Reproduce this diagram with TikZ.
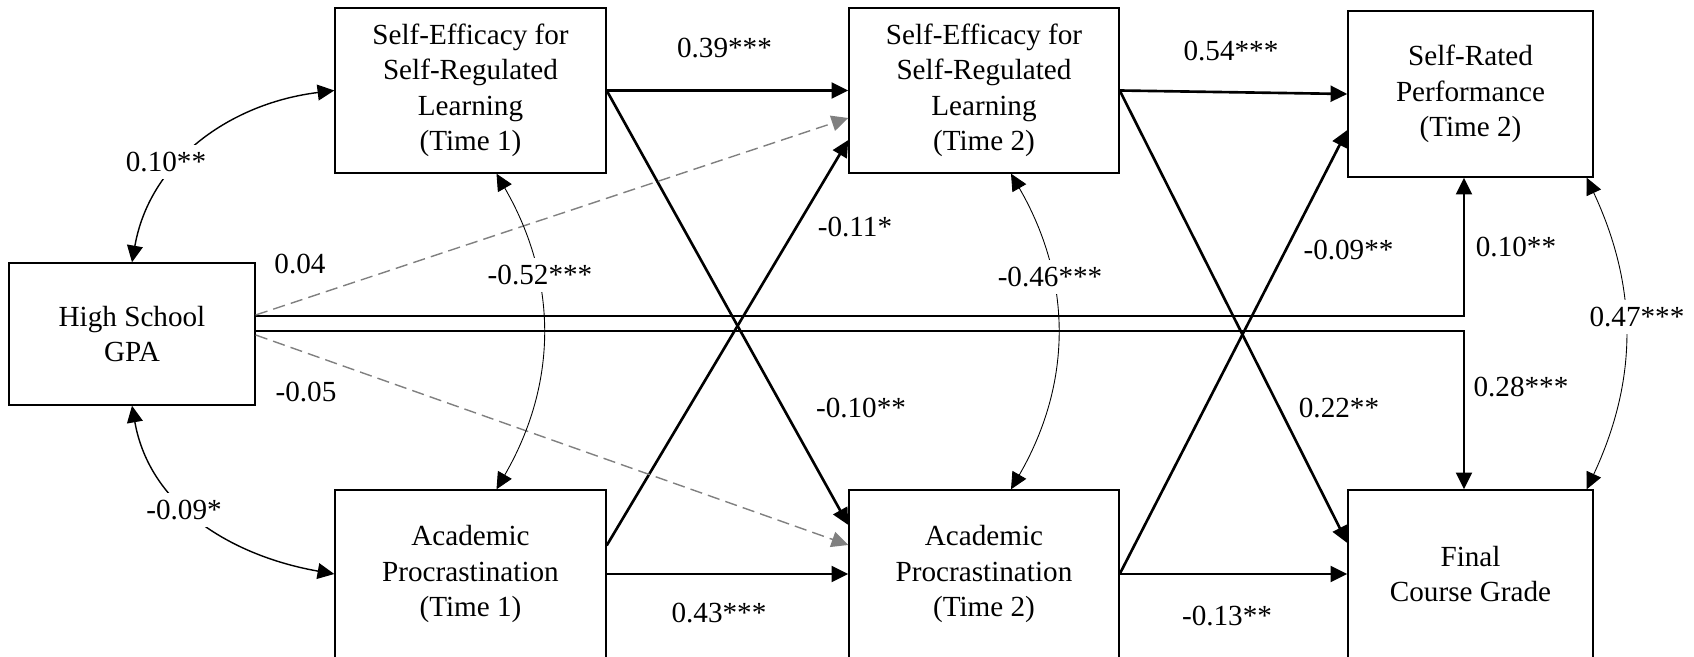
\documentclass[tikz,border=0pt]{standalone}
\usepackage{fontspec}
\setmainfont{Liberation Serif}
\usepackage{tikz}
\usetikzlibrary{arrows.meta, positioning, calc}
\newcommand{\semfont}{\fontsize{16.6}{20.2}\selectfont}

\begin{document}
\begin{tikzpicture}[
    box/.style={rectangle,draw=black,line width=0.8pt,align=center,font=\semfont,inner sep=0pt},
    effect/.style={-{Triangle[length=9.5pt,width=9pt]},line width=1.5pt},
    nonsig/.style={-{Triangle[length=9.5pt,width=9pt]},draw=black!50,line width=0.8pt,dash pattern=on 7pt off 3.5pt},
    covar/.style={{Triangle[length=9.5pt,width=9pt]}-{Triangle[length=9.5pt,width=9pt]},line width=0.8pt},
    thincovar/.style={covar,line width=0.5pt},
    coef/.style={font=\semfont,inner sep=0pt},
    coefw/.style={coef,fill=white,inner sep=4pt}
]
    \useasboundingbox (0,0) rectangle (33.88,-13.14);
    \clip (0,0) rectangle (33.88,-13.14);

    % Variabili
    \node[box,minimum width=4.92cm,minimum height=2.84cm] (hs) at (2.64,-6.68) {High School\\GPA};
    \node[box,minimum width=5.42cm,minimum height=3.30cm] (se1) at (9.41,-1.81) {Self-Efficacy for\\Self-Regulated\\Learning\\(Time 1)};
    \node[box,minimum width=5.40cm,minimum height=3.30cm] (se2) at (19.68,-1.81) {Self-Efficacy for\\Self-Regulated\\Learning\\(Time 2)};
    \node[box,minimum width=4.90cm,minimum height=3.32cm] (srp) at (29.41,-1.88) {Self-Rated\\Performance\\(Time 2)};
    \node[box,minimum width=5.42cm,minimum height=3.36cm] (ap1) at (9.41,-11.48) {Academic\\Procrastination\\(Time 1)};
    \node[box,minimum width=5.40cm,minimum height=3.36cm] (ap2) at (19.68,-11.48) {Academic\\Procrastination\\(Time 2)};
    \node[box,minimum width=4.90cm,minimum height=3.36cm] (fcg) at (29.41,-11.48) {Final\\Course Grade};

    % Percorsi
    \draw[effect] (se1.east) -- (se2.west);
    \draw[effect] (se2.east) -- (srp.west);
    \draw[effect] (ap1.east) -- (ap2.west);
    \draw[effect] (ap2.east) -- (fcg.west);
    \draw[effect] (se1.east) -- ([yshift=0.98cm]ap2.west);
    \draw[effect] ([yshift=0.57cm]ap1.east) -- ([yshift=-0.99cm]se2.west);
    \draw[effect] (se2.east) -- ([yshift=0.62cm]fcg.west);
    \draw[effect] (ap2.east) -- ([yshift=-0.72cm]srp.west);
    \draw[effect] ([yshift=0.36cm]hs.east) -| ([xshift=-0.13cm]srp.south);
    \draw[effect] ([yshift=0.06cm]hs.east) -| ([xshift=-0.13cm]fcg.north);

    % Percorsi non significativi
    \draw[nonsig] ([yshift=0.38cm]hs.east) -- ([yshift=-0.55cm]se2.west);
    \draw[nonsig] ([yshift=-0.02cm]hs.east) -- ([yshift=0.58cm]ap2.west);

    % Covarianze
    \draw[covar] (hs.north) to[out=80,in=187] (se1.west);
    \draw[covar] (hs.south) to[out=-80,in=170] (ap1.west);
    \draw[thincovar] ([xshift=0.52cm]se1.south) to[out=-60,in=60] ([xshift=0.52cm]ap1.north);
    \draw[thincovar] ([xshift=0.54cm]se2.south) to[out=-60,in=60] ([xshift=0.54cm]ap2.north);
    \draw[thincovar] ([xshift=-0.14cm]srp.south east) to[out=-65,in=65] ([xshift=-0.14cm]fcg.north east);

    % Coefficienti
    \node[coefw] (c-hs-se1) at (3.32,-3.24) {0.10**};
    \node[coefw] (c-hs-ap1) at (3.68,-10.20) {-0.09*};
    \node[coefw] (c-se1-ap1) at (10.80,-5.50) {-0.52***};
    \node[coefw] (c-se2-ap2) at (21.00,-5.54) {-0.46***};
    \node[coefw] (c-srp-fcg) at (32.74,-6.34) {0.47***};
    \node[coef] (c-hs-se2) at (6.00,-5.28) {0.04};
    \node[coef] (c-hs-ap2) at (6.12,-7.84) {-0.05};
    \node[coef] (c-se1-se2) at (14.49,-0.97) {0.39***};
    \node[coef] (c-ap1-se2) at (17.10,-4.54) {-0.11*};
    \node[coef] (c-se1-ap2) at (17.22,-8.16) {-0.10**};
    \node[coef] (c-ap1-ap2) at (14.38,-12.27) {0.43***};
    \node[coef] (c-se2-srp) at (24.62,-1.03) {0.54***};
    \node[coef] (c-ap2-srp) at (26.97,-5.00) {-0.09**};
    \node[coef] (c-se2-fcg) at (26.78,-8.16) {0.22**};
    \node[coef] (c-ap2-fcg) at (24.54,-12.32) {-0.13**};
    \node[coef] (c-hs-srp) at (30.32,-4.95) {0.10**};
    \node[coef] (c-hs-fcg) at (30.42,-7.74) {0.28***};
\end{tikzpicture}
\end{document}
